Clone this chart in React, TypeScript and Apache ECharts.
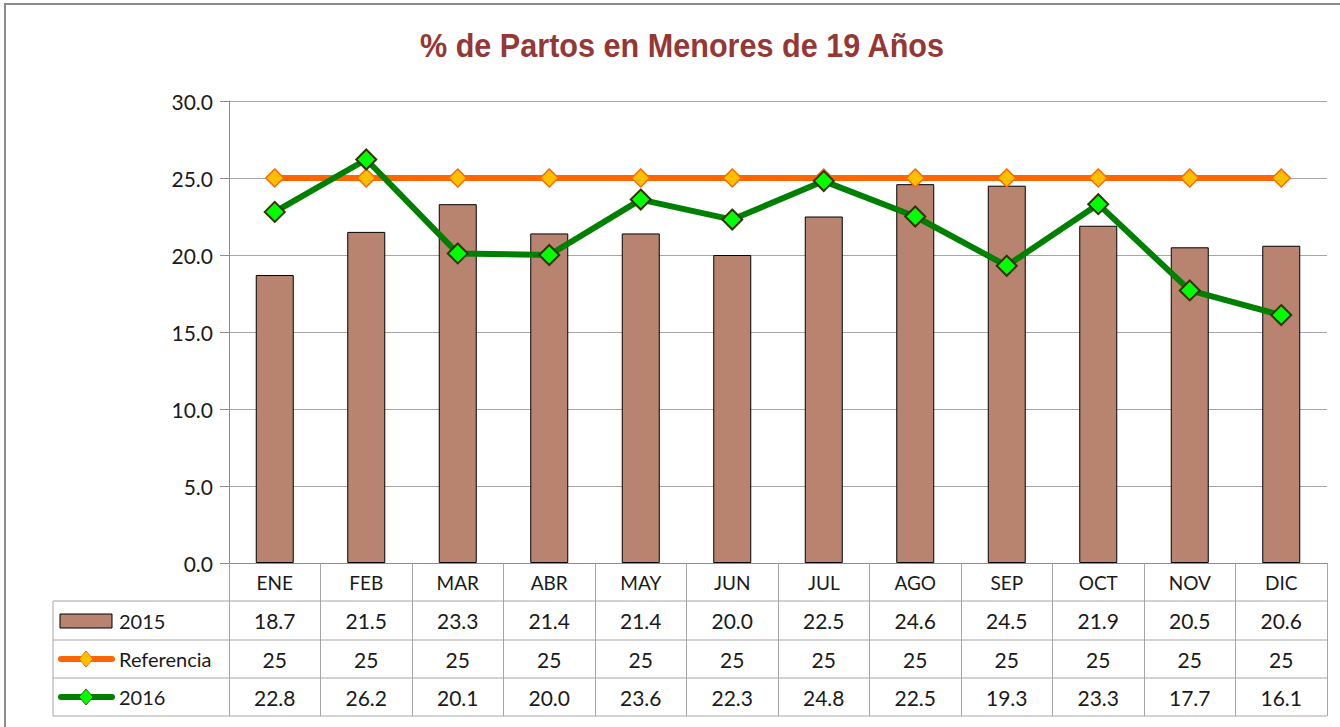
import React, { useEffect, useRef } from "react";
import * as echarts from "echarts";

const categories = ["ENE", "FEB", "MAR", "ABR", "MAY", "JUN", "JUL", "AGO", "SEP", "OCT", "NOV", "DIC"];
const values2015 = [18.7, 21.5, 23.3, 21.4, 21.4, 20.0, 22.5, 24.6, 24.5, 21.9, 20.5, 20.6];
const referencia = [25, 25, 25, 25, 25, 25, 25, 25, 25, 25, 25, 25];
const values2016 = [22.8, 26.2, 20.1, 20.0, 23.6, 22.3, 24.8, 22.5, 19.3, 23.3, 17.7, 16.1];
const seriesNames = ["2015", "Referencia", "2016"];
const titleText = "% de Partos en Menores de 19 Años";

export default function App() {
  const ref = useRef<HTMLDivElement>(null);
  useEffect(() => {
    document.body.style.margin = "0";
    const chart = echarts.init(ref.current!, null, { renderer: "svg" });
    const font = "Lato, 'Liberation Sans', sans-serif";
    const gridLeft = 229, gridTop = 101, gridRight = 13, gridBottom = 164;
    const W = 1340;
    const plotRight = W - gridRight;
    const tableLine = "#a6a6a6";
    const textColor = "#1a1a1a";

    chart.setOption({
      animation: false,
      backgroundColor: "#ffffff",
      grid: { left: gridLeft, top: gridTop, right: gridRight, bottom: gridBottom },
      xAxis: {
        type: "category",
        data: categories,
        boundaryGap: true,
        axisLine: { show: true, lineStyle: { color: "#8c8c8c", width: 1 } },
        axisTick: { show: true, length: 153, lineStyle: { color: tableLine, width: 1 } },
        axisLabel: { color: textColor, fontFamily: font, fontSize: 19, margin: 10 },
      },
      yAxis: {
        type: "value",
        min: 0,
        max: 30,
        interval: 5,
        axisLine: { show: true, lineStyle: { color: "#8c8c8c", width: 1 } },
        axisTick: { show: true, length: 9, lineStyle: { color: "#8c8c8c" } },
        axisLabel: {
          color: textColor,
          fontFamily: font,
          fontSize: 21,
          margin: 16,
          formatter: (v: number) => v.toFixed(1),
        },
        splitLine: { show: true, lineStyle: { color: "#a6a6a6", width: 1 } },
      },
      series: [
        {
          name: seriesNames[0],
          type: "bar",
          data: values2015,
          barWidth: 38,
          itemStyle: { color: "#b9846f", borderColor: "#000000", borderWidth: 1 },
          z: 2,
        },
        {
          name: seriesNames[1],
          type: "line",
          data: referencia,
          symbol: "diamond",
          symbolSize: 18,
          lineStyle: { color: "#ff6600", width: 6 },
          itemStyle: { color: "#ffc000", borderColor: "#ff6600", borderWidth: 1.5 },
          z: 3,
        },
        {
          name: seriesNames[2],
          type: "line",
          data: values2016,
          symbol: "diamond",
          symbolSize: 20,
          lineStyle: { color: "#008000", width: 6 },
          itemStyle: { color: "#00ff00", borderColor: "#333300", borderWidth: 2 },
          z: 4,
        },
      ],
    });

    const xs = categories.map((c) => chart.convertToPixel({ xAxisIndex: 0 }, c) as number);
    const rowYs = [620.5, 659, 697];
    const rowLines = [601, 640, 678, 716];
    const tableLeft = 53;
    const rows = [
      values2015.map((v) => v.toFixed(1)),
      referencia.map((v) => String(v)),
      values2016.map((v) => v.toFixed(1)),
    ];

    const graphics: any[] = [];
    graphics.push({
      type: "rect",
      shape: { x: 5, y: 4, width: 1345, height: 740 },
      style: { fill: "none", stroke: "#8c8c8c", lineWidth: 2 },
      z: 100,
    });
    graphics.push({
      type: "text",
      x: 682,
      y: 45,
      scaleX: 0.9,
      style: {
        text: titleText,
        fill: "#953735",
        font: "bold 34px 'Liberation Sans Narrow', 'Arial Narrow', 'Liberation Sans', sans-serif",
        align: "center",
        verticalAlign: "middle",
      },
    });
    rowLines.forEach((y) => {
      graphics.push({
        type: "line",
        shape: { x1: tableLeft, y1: y, x2: plotRight, y2: y },
        style: { stroke: tableLine, lineWidth: 1 },
      });
    });
    graphics.push({
      type: "line",
      shape: { x1: tableLeft, y1: rowLines[0], x2: tableLeft, y2: rowLines[3] },
      style: { stroke: tableLine, lineWidth: 1 },
    });
    rows.forEach((row, r) => {
      row.forEach((txt, i) => {
        graphics.push({
          type: "text",
          x: xs[i],
          y: rowYs[r],
          style: {
            text: txt,
            fill: textColor,
            font: `21px ${font}`,
            align: "center",
            verticalAlign: "middle",
          },
        });
      });
    });
    // legend keys
    graphics.push({
      type: "rect",
      shape: { x: 60, y: 614, width: 52, height: 14 },
      style: { fill: "#b9846f", stroke: "#000", lineWidth: 1 },
    });
    const keyLine = (y: number, color: string, fill: string, stroke: string) => {
      graphics.push({
        type: "line",
        shape: { x1: 61, y1: y, x2: 112, y2: y },
        style: { stroke: color, lineWidth: 6, lineCap: "round" },
      });
      graphics.push({
        type: "polygon",
        shape: { points: [[86, y - 8], [93, y], [86, y + 8], [79, y]] },
        style: { fill, stroke, lineWidth: 1 },
      });
    };
    keyLine(rowYs[1], "#ff6600", "#ffc000", "#ff6600");
    keyLine(rowYs[2], "#008000", "#00ff00", "#2a6a00");
    seriesNames.forEach((n, r) => {
      graphics.push({
        type: "text",
        x: 119,
        y: rowYs[r],
        style: { text: n, fill: textColor, font: `20px ${font}`, align: "left", verticalAlign: "middle" },
      });
    });

    chart.setOption({ graphic: graphics });

    return () => chart.dispose();
  }, []);
  return <div ref={ref} style={{ width: 1340, height: 727 }} />;
}
